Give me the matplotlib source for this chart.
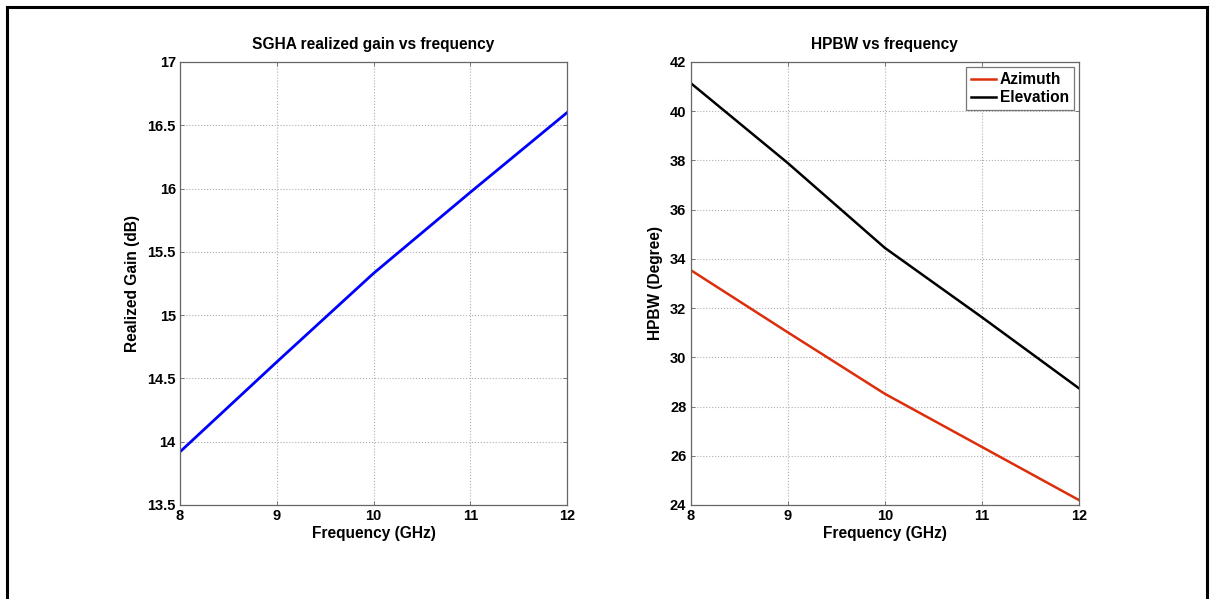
import matplotlib
matplotlib.use("Agg")
import matplotlib.pyplot as plt
from matplotlib.lines import Line2D

plt.rcParams['font.family'] = ['Liberation Sans', 'DejaVu Sans']
plt.rcParams['font.weight'] = 'bold'

freq = [8, 9, 10, 11, 12]
gain = [13.92, 14.63, 15.33, 15.97, 16.60]
azimuth = [33.55, 31.02, 28.52, 26.36, 24.20]
elevation = [41.15, 37.90, 34.45, 31.63, 28.74]

x_ticks = [8, 9, 10, 11, 12]
gain_ticks = [13.5, 14, 14.5, 15, 15.5, 16, 16.5, 17]
gain_ticklabels = ['13.5', '14', '14.5', '15', '15.5', '16', '16.5', '17']
hpbw_ticks = [24, 26, 28, 30, 32, 34, 36, 38, 40, 42]

W, H = 1211, 599
fig = plt.figure(figsize=(W / 100, H / 100), dpi=100)

ax1 = fig.add_axes([180 / W, 1 - 505 / H, 387 / W, 443 / H])
ax2 = fig.add_axes([690.5 / W, 1 - 505 / H, 388.5 / W, 443 / H])

fs = 10.5
lfs = 11.2
spine_col = '#666666'

def style(ax):
    ax.grid(True, linestyle=':', color='#b0b0b0', linewidth=0.8)
    ax.tick_params(direction='in', length=3, width=0.6, color=spine_col,
                   top=True, right=True, labelsize=fs, pad=3)
    for s in ax.spines.values():
        s.set_color(spine_col)
        s.set_linewidth(0.9)
    for lab in ax.get_xticklabels() + ax.get_yticklabels():
        lab.set_fontweight('bold')

ax1.plot(freq, gain, color='#0000ff', linewidth=2.0)
ax1.set_xlim(8, 12)
ax1.set_ylim(13.5, 17)
ax1.set_xticks(x_ticks)
ax1.set_yticks(gain_ticks)
ax1.set_yticklabels(gain_ticklabels)
ax1.set_xlabel('Frequency (GHz)', fontsize=lfs, fontweight='bold', labelpad=2)
ax1.set_ylabel('Realized Gain (dB)', fontsize=lfs, fontweight='bold', labelpad=5)
ax1.set_title('SGHA realized gain vs frequency', fontsize=lfs, fontweight='bold', pad=9)
style(ax1)

ax2.plot(freq, azimuth, color='#dd2e0c', linewidth=1.8, label='Azimuth')
ax2.plot(freq, elevation, color='#000000', linewidth=1.8, label='Elevation')
ax2.set_xlim(8, 12)
ax2.set_ylim(24, 42)
ax2.set_xticks(x_ticks)
ax2.set_yticks(hpbw_ticks)
ax2.set_xlabel('Frequency (GHz)', fontsize=lfs, fontweight='bold', labelpad=2)
ax2.set_ylabel('HPBW (Degree)', fontsize=lfs, fontweight='bold', labelpad=5)
ax2.set_title('HPBW vs frequency', fontsize=lfs, fontweight='bold', pad=9)
style(ax2)
leg = ax2.legend(loc='upper right', fontsize=lfs, fancybox=False, framealpha=1,
                 edgecolor='#777777', handlelength=1.6, handletextpad=0.25,
                 borderpad=0.3, labelspacing=0.2, borderaxespad=0.35)
leg.get_frame().set_linewidth(0.9)
for t in leg.get_texts():
    t.set_fontweight('bold')

# outer frame
x0, x1, yt = 7 / W, 1207 / W, 1 - 7 / H
for xs, ys in [([x0, x0], [-0.01, yt]), ([x0, x1], [yt, yt]), ([x1, x1], [yt, -0.01])]:
    fig.add_artist(Line2D(xs, ys, transform=fig.transFigure, color='black', linewidth=2.2))

fig.savefig('out.png', dpi=100)
